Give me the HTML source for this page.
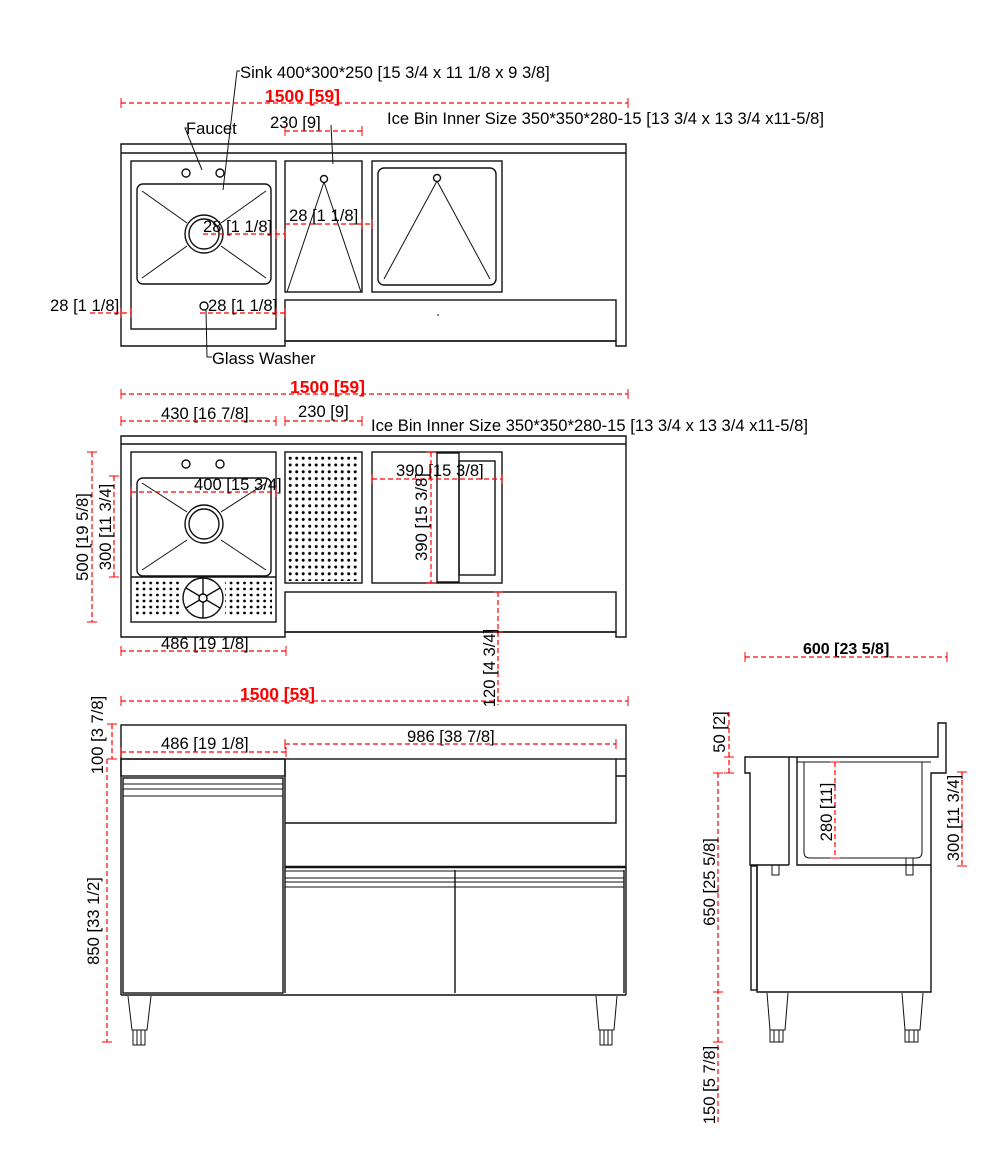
<!DOCTYPE html>
<html><head><meta charset="utf-8"><style>
html,body{margin:0;padding:0;background:#fff}
svg{display:block}
text{font-family:"Liberation Sans",sans-serif;font-size:16.6px;fill:#000}
.r{fill:#f00;font-weight:bold;font-size:17.5px}
.b{font-weight:bold;font-size:16px}
.k{fill:none;stroke:#111;stroke-width:1.4}
.t{fill:none;stroke:#111;stroke-width:1}
.d{fill:none;stroke:#f00;stroke-width:1.2;stroke-dasharray:5 3}
.a{fill:none;stroke:#f00;stroke-width:1}
</style></head><body>
<svg width="1002" height="1168" viewBox="0 0 1002 1168" xmlns="http://www.w3.org/2000/svg">
<defs>
<pattern id="dt" x="287" y="455" width="6.5" height="6.8" patternUnits="userSpaceOnUse"><circle cx="3.2" cy="3.2" r="1.5" fill="#000"/></pattern>
<pattern id="ds" x="134" y="580" width="6.7" height="6" patternUnits="userSpaceOnUse"><circle cx="3.3" cy="3" r="1.4" fill="#000"/></pattern>
</defs>

<!-- ===== TOP VIEW 1 ===== -->
<path class="k" d="M121 144H626V346H616V341H285V346H121Z"/>
<line class="k" x1="121" y1="153" x2="626" y2="153"/>
<rect class="k" x="131" y="161" width="145" height="168"/>
<rect class="k" x="137" y="184" width="134" height="100" rx="6"/>
<circle class="k" cx="204" cy="234" r="19"/><circle class="k" cx="204" cy="234" r="15"/>
<path class="t" d="M142 191L187 223M266 191L221 223M142 278L187 246M266 278L221 246"/>
<circle class="k" cx="186" cy="173" r="4"/><circle class="k" cx="220" cy="173" r="4"/>
<circle class="k" cx="204" cy="306" r="4"/>
<rect class="k" x="285" y="161" width="77" height="131"/>
<circle class="k" cx="324" cy="179" r="3.5"/>
<path class="t" d="M324 182L287 292M324 182L361 292"/>
<rect class="k" x="372" y="161" width="130" height="131"/>
<rect class="k" x="378" y="168" width="118" height="117" rx="6"/>
<circle class="k" cx="437" cy="178" r="3.5"/>
<path class="t" d="M437 181L384 279M437 181L490 279"/>
<rect class="k" x="285" y="300" width="331" height="41"/>
<circle cx="438" cy="315" r="0.8" fill="#000"/>

<text x="240" y="78">Sink 400*300*250 [15 3/4 x 11 1/8 x  9 3/8]</text>
<path class="t" d="M240 71H237L223 190"/>
<text x="186" y="134">Faucet</text>
<path class="t" d="M187 128H185L202 170"/>
<line class="d" x1="121" y1="103" x2="628" y2="103"/>
<path class="a" d="M121 98V108M628 98V108"/>
<text class="r" x="265" y="102">1500 [59]</text>
<text x="270" y="128">230 [9]</text>
<line class="d" x1="285" y1="131" x2="362" y2="131"/>
<path class="a" d="M285 126V136M362 126V136"/>
<path class="t" d="M331 125L333 164"/>
<text x="387" y="124">Ice Bin Inner Size 350*350*280-15 [13 3/4 x 13 3/4 x11-5/8]</text>
<text x="203" y="232">28 [1 1/8]</text>
<line class="d" x1="203" y1="234" x2="285" y2="234"/>
<path class="a" d="M276 229V239M285 229V239"/>
<text x="289" y="221">28 [1 1/8]</text>
<line class="d" x1="285" y1="224" x2="372" y2="224"/>
<path class="a" d="M362 219V229M372 219V229"/>
<text x="50" y="311">28 [1 1/8]</text>
<line class="d" x1="90" y1="313" x2="131" y2="313"/>
<path class="a" d="M121 308V318M131 308V318"/>
<text x="208" y="311">28 [1 1/8]</text>
<line class="d" x1="200" y1="313" x2="285" y2="313"/>
<path class="a" d="M276 308V318M285 308V318"/>
<path class="t" d="M206 310L207 357H212"/>
<text x="212" y="364">Glass Washer</text>

<!-- ===== TOP VIEW 2 ===== -->
<path class="k" d="M121 436H626V637H616V632H285V637H121Z"/>
<line class="k" x1="121" y1="444" x2="626" y2="444"/>
<rect class="k" x="131" y="452" width="145" height="170"/>
<rect class="k" x="137" y="478" width="134" height="98" rx="6"/>
<circle class="k" cx="204" cy="524" r="19"/><circle class="k" cx="204" cy="524" r="15"/>
<path class="t" d="M142 483L187 512M266 483L221 512M142 570L187 540M266 570L221 540"/>
<circle class="k" cx="186" cy="464" r="4"/><circle class="k" cx="220" cy="464" r="4"/>
<line class="k" x1="131" y1="577" x2="276" y2="577"/>
<rect x="135" y="580" width="46" height="37" fill="url(#ds)"/>
<rect x="225" y="580" width="47" height="37" fill="url(#ds)"/>
<circle class="k" cx="203" cy="598" r="20"/>
<path class="k" d="M203 578V618M186 588L220 608M186 608L220 588"/>
<circle cx="203" cy="598" r="4" fill="#fff" stroke="#000" stroke-width="1.4"/>
<rect class="k" x="285" y="452" width="77" height="131"/>
<rect x="287" y="455" width="73" height="126" fill="url(#dt)"/>
<rect class="k" x="372" y="452" width="130" height="131"/>
<rect class="k" x="437" y="453" width="22" height="129"/>
<rect class="k" x="459" y="461" width="36" height="114"/>
<rect class="k" x="285" y="592" width="331" height="40"/>

<line class="d" x1="121" y1="394" x2="628" y2="394"/>
<path class="a" d="M121 389V399M628 389V399"/>
<text class="r" x="290" y="393">1500 [59]</text>
<text x="161" y="419">430 [16 7/8]</text>
<line class="d" x1="121" y1="421" x2="276" y2="421"/>
<path class="a" d="M121 416V426M276 416V426"/>
<text x="298" y="417">230 [9]</text>
<line class="d" x1="285" y1="421" x2="362" y2="421"/>
<path class="a" d="M285 416V426M362 416V426"/>
<text x="371" y="431">Ice Bin Inner Size 350*350*280-15 [13 3/4 x 13 3/4 x11-5/8]</text>
<text x="194" y="490">400 [15 3/4]</text>
<line class="d" x1="131" y1="492" x2="276" y2="492"/>
<path class="a" d="M131 487V497M276 487V497"/>
<text x="396" y="476">390 [15 3/8]</text>
<line class="d" x1="372" y1="479" x2="502" y2="479"/>
<path class="a" d="M372 474V484M502 474V484"/>
<line class="d" x1="431" y1="452" x2="431" y2="583"/>
<path class="a" d="M426 452H436M426 583H436"/>
<text transform="translate(427,517) rotate(-90)" text-anchor="middle">390 [15 3/8]</text>
<line class="d" x1="92" y1="452" x2="92" y2="622"/>
<path class="a" d="M87 452H97M87 622H97"/>
<text transform="translate(88,537) rotate(-90)" text-anchor="middle">500 [19 5/8]</text>
<line class="d" x1="114" y1="476" x2="114" y2="577"/>
<path class="a" d="M109 476H119M109 577H119"/>
<text transform="translate(111,527) rotate(-90)" text-anchor="middle">300 [11 3/4]</text>
<text x="161" y="649">486 [19 1/8]</text>
<line class="d" x1="121" y1="651" x2="286" y2="651"/>
<path class="a" d="M121 646V656M286 646V656"/>
<line class="d" x1="498" y1="592" x2="498" y2="705"/>
<path class="a" d="M493 592H503M493 632H503"/>
<text transform="translate(495,668) rotate(-90)" text-anchor="middle">120 [4 3/4]</text>

<!-- ===== FRONT VIEW ===== -->
<rect class="k" x="121" y="725" width="505" height="34"/>
<rect class="k" x="121" y="759" width="164" height="17"/>
<rect class="k" x="123" y="778" width="160" height="215"/>
<path class="t" d="M123 784H283M123 789H283M123 796H283"/>
<path class="k" d="M285 759V993M285 823H616V759M616 776H626"/>
<line class="k" x1="626" y1="759" x2="626" y2="995"/>
<line x1="285" y1="867" x2="626" y2="867" stroke="#111" stroke-width="2.5"/>
<path class="t" d="M285 871H624M285 878H624M285 882H624M285 887H624"/>
<line class="k" x1="455" y1="870" x2="455" y2="993"/>
<line class="k" x1="624" y1="870" x2="624" y2="993"/>
<line class="k" x1="121" y1="995" x2="626" y2="995"/>
<line class="k" x1="121" y1="759" x2="121" y2="995"/>
<path class="t" d="M128 996L132 1030H147L151 996M133 1030V1045H145V1030M137 1030V1045M141 1030V1045"/>
<path class="t" d="M596 996L599 1030H614L617 996M600 1030V1045H612V1030M604 1030V1045M608 1030V1045"/>

<line class="d" x1="121" y1="701" x2="628" y2="701"/>
<path class="a" d="M121 696V706M628 696V706"/>
<text class="r" x="240" y="700">1500 [59]</text>
<line class="d" x1="112" y1="724" x2="112" y2="759"/>
<path class="a" d="M107 724H117M107 759H117"/>
<text transform="translate(103,735) rotate(-90)" text-anchor="middle">100 [3 7/8]</text>
<text x="161" y="749">486 [19 1/8]</text>
<line class="d" x1="121" y1="752" x2="286" y2="752"/>
<path class="a" d="M121 747V757M286 747V757"/>
<text x="407" y="742">986 [38 7/8]</text>
<line class="d" x1="285" y1="744" x2="616" y2="744"/>
<path class="a" d="M285 739V749M616 739V749"/>
<line class="d" x1="107" y1="759" x2="107" y2="1042"/>
<path class="a" d="M102 1042H112"/>
<text transform="translate(99,921) rotate(-90)" text-anchor="middle">850 [33 1/2]</text>

<!-- ===== SIDE VIEW ===== -->
<path class="k" d="M745 757H938V723H946V773H931V992H757V865H750V773H745Z"/>
<line class="k" x1="789" y1="757" x2="789" y2="865"/>
<line class="k" x1="757" y1="865" x2="789" y2="865"/>
<rect class="k" x="751" y="866" width="6" height="124"/>
<path class="k" d="M797 757V865H931"/>
<path class="t" d="M804 762V852Q804 858 810 858H916Q922 858 922 852V762"/>
<path class="t" d="M797 762H931"/>
<rect class="t" x="772" y="865" width="7" height="10"/>
<rect class="t" x="906" y="858" width="7" height="17"/>
<path class="t" d="M767 993L770 1030H785L788 993M770 1030V1042H783V1030M774 1030V1042M779 1030V1042"/>
<path class="t" d="M902 993L905 1030H920L923 993M905 1030V1042H918V1030M909 1030V1042M914 1030V1042"/>

<text class="b" x="803" y="654">600 [23 5/8]</text>
<line class="d" x1="745" y1="657" x2="947" y2="657"/>
<path class="a" d="M745 652V662M947 652V662"/>
<line class="d" x1="729" y1="712" x2="729" y2="773"/>
<path class="a" d="M724 757H734M724 773H734"/>
<text transform="translate(725,732) rotate(-90)" text-anchor="middle">50 [2]</text>
<line class="d" x1="718" y1="773" x2="718" y2="1125"/>
<path class="a" d="M713 773H723M713 992H723M713 1042H723"/>
<text transform="translate(715,882) rotate(-90)" text-anchor="middle">650 [25 5/8]</text>
<text transform="translate(715,1085) rotate(-90)" text-anchor="middle">150 [5 7/8]</text>
<line class="d" x1="835" y1="762" x2="835" y2="858"/>
<path class="a" d="M830 762H840M830 858H840"/>
<text transform="translate(832,812) rotate(-90)" text-anchor="middle">280 [11]</text>
<line class="d" x1="962" y1="772" x2="962" y2="866"/>
<path class="a" d="M957 772H967M957 866H967"/>
<text transform="translate(959,818) rotate(-90)" text-anchor="middle">300 [11 3/4]</text>
</svg>
</body></html>
